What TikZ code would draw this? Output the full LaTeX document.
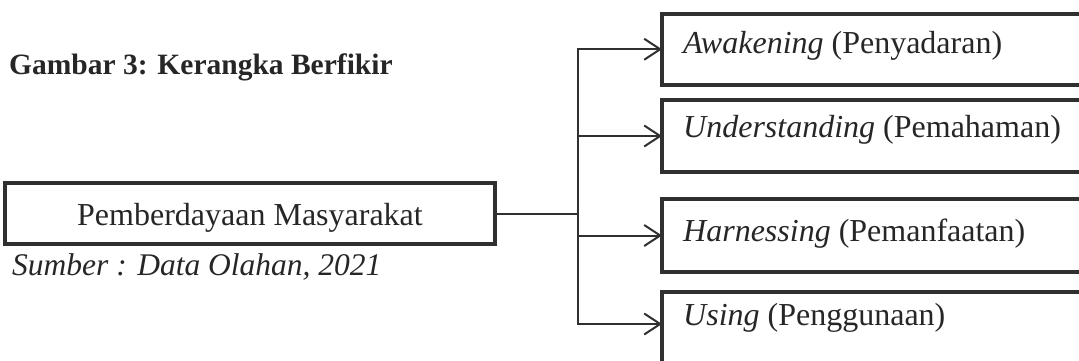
\documentclass[tikz,border=0pt]{standalone}
\usepackage{fontspec}
\setmainfont{Liberation Serif}
\usetikzlibrary{arrows.meta}
\definecolor{ink}{HTML}{262626}
\definecolor{rulecol}{HTML}{303030}

\begin{document}
\begin{tikzpicture}[x=1pt,y=-1pt,
  box/.style={draw=rulecol, line width=4pt, outer sep=0pt, inner sep=0pt, rectangle},
  link/.style={draw=rulecol, line width=2pt},
  arr/.style={link, -{Straight Barb[length=16pt,width=21pt]}},
  txt/.style={text=ink, font=\fontsize{32}{38}\selectfont, inner sep=0pt, anchor=base west}]
\useasboundingbox (0,0) rectangle (1079,360);

% heading and source note
\node[txt, font=\fontsize{29.5}{35}\selectfont\bfseries] (title) at (9,74) {Gambar 3: Kerangka Berfikir};
\node[txt, font=\fontsize{31.5}{37}\selectfont\itshape] (src) at (12,275) {Sumber : Data Olahan, 2021};

% main concept
\node[box, minimum width=490pt, minimum height=61pt] (pm) at (250,213.5) {};
\node[txt, anchor=base] (pmt) at (250,225) {Pemberdayaan Masyarakat};

% the four stages (boxes run past the right edge)
\node[box, minimum width=448pt, minimum height=71.5pt] (aw) at (886,49.25) {};
\node[box, minimum width=448pt, minimum height=72pt]   (un) at (886,136) {};
\node[box, minimum width=448pt, minimum height=72.5pt] (ha) at (886,235.5) {};
\node[box, minimum width=448pt, minimum height=72pt]   (us) at (886,328) {};

\node[txt] (awt) at (683,53.5) {\textit{Awakening} (Penyadaran)};
\node[txt] (unt) at (683,137)  {\textit{Understanding} (Pemahaman)};
\node[txt] (hat) at (683,241)  {\textit{Harnessing} (Pemanfaatan)};
\node[txt] (ust) at (683,325)  {\textit{Using} (Penggunaan)};

% branching connector
\coordinate (jx) at (578,0);
\coordinate (usin) at ([yshift=4pt]us.west);
\draw[link] (pm.east) -- (pm.east -| jx);
\draw[link, line cap=rect] (aw.west -| jx) -- (usin -| jx);
\foreach \b in {aw,un,ha}
  \draw[arr] (\b.west -| jx) -- (\b.west);
\draw[arr] (usin -| jx) -- (usin);
\end{tikzpicture}
\end{document}
